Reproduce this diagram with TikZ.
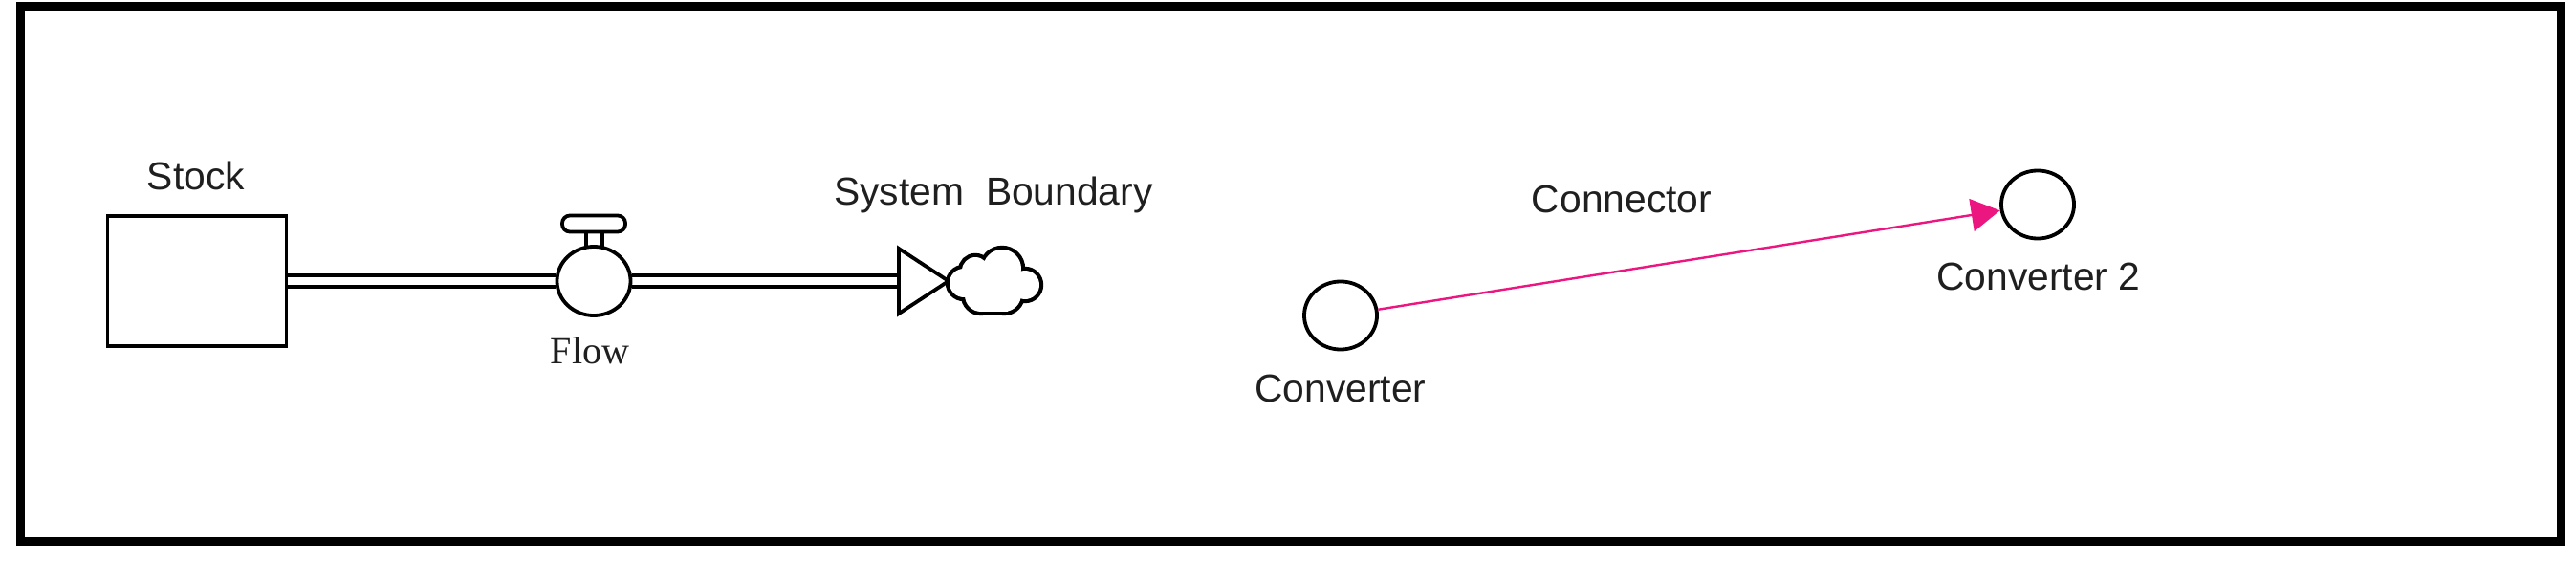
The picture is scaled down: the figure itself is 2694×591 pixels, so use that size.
\documentclass[tikz,border=0pt]{standalone}
\usepackage{fontspec}
\setmainfont{Liberation Sans}
\newfontfamily\flowserif{Liberation Serif}
\usetikzlibrary{calc,arrows.meta,shapes.geometric}
\definecolor{conpink}{RGB}{236,22,128}
\begin{document}
\begin{tikzpicture}[x=0.01cm,y=-0.01cm,
  lbl/.style={font=\fontsize{11.6}{13}\selectfont, anchor=base, inner sep=0, text=black!88},
  shp/.style={draw, line width=0.038cm},
  roundel/.style={shp, ellipse, minimum width=0.76cm, minimum height=0.71cm, inner sep=0},
  conn/.style={draw=conpink, line width=0.024cm, -{Triangle[length=0.3cm,width=0.34cm]}}]
\useasboundingbox (0,0) rectangle (2694,591);
% frame
\draw[line width=0.09cm] (21.5,6.5) rectangle (2678.5,566.5);

% stock
\node[shp, rectangle, minimum width=1.87cm, minimum height=1.36cm, inner sep=0] (stock) at (206,294) {};
\node[lbl] (stocklbl) at (205,199) {Stock};

% valve (flow)
\node[roundel, minimum width=0.77cm, minimum height=0.72cm] (valve) at (621,294) {};
\node[shp, rectangle, rounded corners=0.08cm, minimum width=0.66cm, minimum height=0.17cm, inner sep=0] (handle) at (621,234) {};
\draw[shp] (613,242.5) -- (613,258.5);
\draw[shp] (630,242.5) -- (630,258.5);
\node[lbl, font=\flowserif\fontsize{11.4}{13}\selectfont] (flowlbl) at (617,380) {Flow};

% pipe
\coordinate (abase) at (940,294);
\draw[shp] ($(stock.east)+(0,-6)$) -- ($(valve.west)+(0.6,-6)$);
\draw[shp] ($(stock.east)+(0,6)$) -- ($(valve.west)+(0.6,6)$);
\draw[shp] ($(valve.east)+(-0.6,-6)$) -- ($(abase)+(0,-6)$);
\draw[shp] ($(valve.east)+(-0.6,6)$) -- ($(abase)+(0,6)$);
\draw[shp, fill=white, line join=miter] (940,260) -- (992,294) -- (940,328) -- cycle;

% cloud (system boundary): outline of a union of lobes
\coordinate (cloud) at (1040,293);
\begin{scope}[shift={(cloud)}, x=0.01cm, y=0.01cm]
\foreach \cx/\cy/\r in {-32/-3/15, -20/10/14, 8/12/20, 32/-5/15, 10/-15/18, -14/-16/17, 0/0/20}
  \draw[line width=0.084cm] (\cx,\cy) circle (\r);
\draw[line width=0.084cm] (-16,-33) rectangle (14,-12);
\foreach \cx/\cy/\r in {-32/-3/15, -20/10/14, 8/12/20, 32/-5/15, 10/-15/18, -14/-16/17, 0/0/20}
  \fill[white] (\cx,\cy) circle (\r);
\fill[white] (-16,-33) rectangle (14,-12);
\end{scope}
\node[lbl] (sblbl) at (1039,215) {System\ \ Boundary};

% converters
\node[roundel] (cv1) at (1402,330) {};
\node[lbl] (cv1lbl) at (1402,420) {Converter};
\node[roundel] (cv2) at (2131,214) {};
\node[lbl] (cv2lbl) at (2132,304) {Converter 2};
\draw[conn] (cv1) -- (cv2);
\node[lbl] (connlbl) at (1696,222) {Connector};
\end{tikzpicture}
\end{document}
